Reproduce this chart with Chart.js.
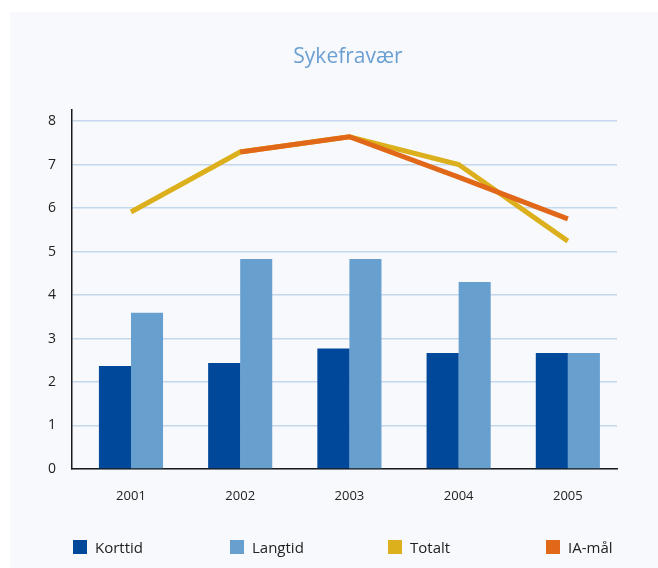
<!DOCTYPE html>
<html>
<head>
<meta charset="utf-8">
<script src="https://cdn.jsdelivr.net/npm/chart.js@4"></script>
<style>
  html, body { margin: 0; padding: 0; background: #fff; }
  #wrap { position: relative; width: 658px; height: 568px; overflow: hidden; }
  #panel { position: absolute; left: 10px; top: 12px; right: 0; bottom: 0; background: #f8f9fd; }
  #chartBox { position: absolute; left: 38px; top: 0; width: 620px; height: 568px; }
  #legend { position: absolute; left: 0; top: 540px; width: 658px; height: 20px; font-family: "Open Sans", sans-serif; font-size: 15px; color: #222; }
  .leg-item { position: absolute; top: 0; display: flex; align-items: center; height: 14px; white-space: nowrap; }
  .leg-box { width: 14px; height: 14px; margin-right: 8px; }
</style>
</head>
<body>
<div id="wrap">
  <div id="panel"></div>
  <div id="chartBox"><canvas id="chart" width="620" height="568"></canvas></div>
  <div id="legend"></div>
</div>
<script>
// values
const years = ["2001", "2002", "2003", "2004", "2005"];
const korttid = [2.37, 2.44, 2.77, 2.67, 2.67];
const langtid = [3.59, 4.83, 4.83, 4.30, 2.67];
const totalt = [5.91, 7.29, 7.64, 7.0, 5.24];
const iaMaal = [null, 7.29, 7.64, 6.71, 5.75];
const yTicks = [0, 1, 2, 3, 4, 5, 6, 7, 8];

const COLORS = {
  korttid: "#00489a",
  langtid: "#679fcf",
  totalt: "#dcb01c",
  ia: "#e06818",
  grid: "#c3d8ec",
  axis: "#1a1a1a",
  text: "#222222",
  title: "#6a9fd2",
};

const FONT = "'Open Sans', sans-serif";

// bars + lines share a linear x axis so the category centres sit where the picture has them
const toPoints = (arr) => arr.map((v, i) => ({ x: i, y: v }));

// centre the title over the plot area rather than the whole canvas
const titleOverPlot = {
  id: "titleOverPlot",
  afterLayout(chart) {
    if (!chart.titleBlock) return;
    chart.titleBlock.left = chart.chartArea.left + 7;
    chart.titleBlock.right = chart.chartArea.right;
  },
};

const chart = new Chart(document.getElementById("chart"), {
  type: "bar",
  data: {
    datasets: [
      { type: "line", label: "IA-mål", data: toPoints(iaMaal), borderColor: COLORS.ia, backgroundColor: COLORS.ia, borderWidth: 5, pointRadius: 0, borderJoinStyle: "miter", order: 0 },
      { type: "line", label: "Totalt", data: toPoints(totalt), borderColor: COLORS.totalt, backgroundColor: COLORS.totalt, borderWidth: 5, pointRadius: 0, borderJoinStyle: "miter", order: 1 },
      { label: "Korttid", data: toPoints(korttid), backgroundColor: COLORS.korttid, order: 2, categoryPercentage: 0.587, barPercentage: 1 },
      { label: "Langtid", data: toPoints(langtid), backgroundColor: COLORS.langtid, order: 3, categoryPercentage: 0.587, barPercentage: 1 },
    ],
  },
  plugins: [titleOverPlot],
  options: {
    responsive: false,
    animation: false,
    layout: { padding: { left: 0, right: 41, top: 0, bottom: 59 } },
    plugins: {
      legend: { display: false },
      tooltip: { enabled: false },
      title: {
        display: true,
        text: "Sykefravær",
        color: COLORS.title,
        font: { family: FONT, size: 21, weight: "normal" },
        padding: { top: 44, bottom: 41 },
      },
    },
    scales: {
      x: {
        type: "linear",
        min: -0.54,
        max: 4.45,
        offset: false,
        grid: { display: false, drawTicks: false },
        border: { display: true, color: COLORS.axis, width: 1.5 },
        afterBuildTicks: (axis) => {
          axis.ticks = years.map((_, i) => ({ value: i }));
        },
        afterFit: (axis) => { axis.height = 40; },
        ticks: {
          padding: 19,
          color: COLORS.text,
          font: { family: FONT, size: 13 },
          maxRotation: 0,
          autoSkip: false,
          callback: (v) => years[v],
        },
      },
      y: {
        min: 0,
        max: 8.25,
        grid: { color: COLORS.grid, lineWidth: 1.5, drawTicks: false },
        border: { display: true, color: COLORS.axis, width: 1.5 },
        afterBuildTicks: (axis) => {
          axis.ticks = yTicks.map((v) => ({ value: v }));
        },
        afterFit: (axis) => { axis.width = 34; },
        ticks: {
          padding: 16,
          color: COLORS.text,
          font: { family: FONT, size: 14 },
        },
      },
    },
  },
});

// legend as HTML, evenly spaced like the reference, built from the chart's datasets
const legendOrder = ["Korttid", "Langtid", "Totalt", "IA-mål"];
const legendLeft = [73, 230, 388, 546];
const legendEl = document.getElementById("legend");
legendEl.innerHTML = legendOrder
  .map((name, i) => {
    const ds = chart.data.datasets.find((d) => d.label === name);
    return `<div class="leg-item" style="left:${legendLeft[i]}px">
      <div class="leg-box" style="background:${ds.backgroundColor}"></div>${name}</div>`;
  })
  .join("");
</script>
</body>
</html>
